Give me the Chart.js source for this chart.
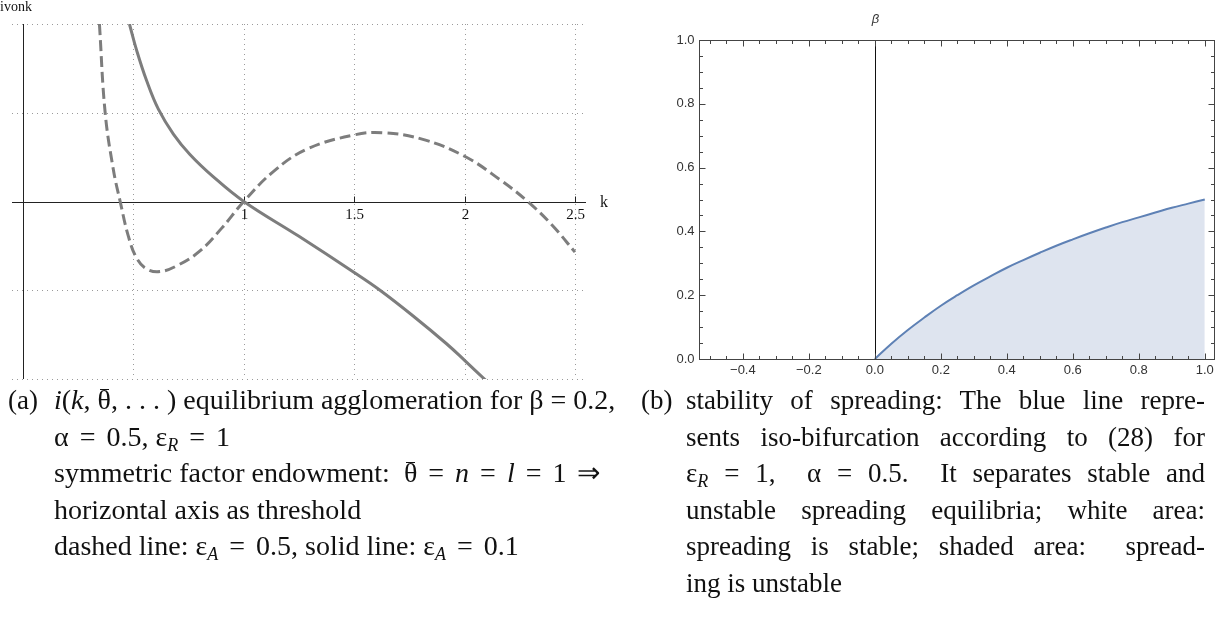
<!DOCTYPE html>
<html>
<head>
<meta charset="utf-8">
<script src="https://cdn.jsdelivr.net/npm/chart.js@4.4.1/dist/chart.umd.min.js"></script>
<style>
  body { margin: 0; width: 1226px; height: 627px; background: #fff; position: relative; overflow: hidden; }
  #leftBox { position: absolute; left: 0; top: 0; width: 620px; height: 390px; }
  #rightBox { position: absolute; left: 640px; top: 0; width: 586px; height: 385px; }
  .cap { position: absolute; font-family: 'Liberation Serif', 'Times New Roman', serif; font-size: 27px; line-height: 36.6px; color: #111; white-space: nowrap; }
  .capA { font-size: 28px; }
  .tag { position: absolute; font-family: 'Liberation Serif', serif; font-size: 27px; line-height: 36.6px; color: #111; }
  .j { text-align: justify; text-align-last: justify; }
  i { font-style: italic; }
  sub { font-size: 18px; vertical-align: -5px; line-height: 0; font-style: italic; }
  .bar { display: inline-block; position: relative; line-height: 36.6px; }
  .bar::before { content: ''; position: absolute; left: 2px; right: 2px; top: 7px; border-top: 1.5px solid #111; }
  .r { margin: 0 4px; }
</style>
</head>
<body>
<div id="leftBox"><canvas id="leftChart"></canvas></div>
<div id="rightBox"><canvas id="rightChart"></canvas></div>

<div class="tag" style="left:8px; top:382px;">(a)</div>
<div class="cap capA" style="left:54px; top:382px;">
  <div><i>i</i>(<i>k</i>, <span class="bar">θ</span>, . . . ) equilibrium agglomeration for β = 0.2,</div>
  <div>α <span class="r">=</span> 0.5, ε<sub>R</sub> <span class="r">=</span> 1</div>
  <div>symmetric factor endowment: &nbsp;<span class="bar">θ</span> <span class="r">=</span> <i>n</i> <span class="r">=</span> <i>l</i> <span class="r">=</span> 1 <span class="r">⇒</span></div>
  <div>horizontal axis as threshold</div>
  <div>dashed line: ε<sub>A</sub> <span class="r">=</span> 0.5, solid line: ε<sub>A</sub> <span class="r">=</span> 0.1</div>
</div>

<div class="tag" style="left:641px; top:382px;">(b)</div>
<div class="cap" style="left:686px; top:382px; width:519px; white-space:normal;">
  <div class="j">stability of spreading: The blue line repre-</div>
  <div class="j">sents iso-bifurcation according to (28) for</div>
  <div class="j">ε<sub>R</sub> = 1, &nbsp;α = 0.5. &nbsp;It separates stable and</div>
  <div class="j">unstable spreading equilibria; white area:</div>
  <div class="j">spreading is stable; shaded area: &nbsp;spread-</div>
  <div>ing is unstable</div>
</div>

<script>
// ---------- left panel: i(k) curves ----------
const kGrid = [0.5, 1, 1.5, 2, 2.5];
const iGrid = [-2, -1, 1, 2];
const kTickValues = [1, 1.5, 2, 2.5];
const kTickLabels = ['1', '1.5', '2', '2.5'];

// dashed line: eps_A = 0.5
const dashedK = [0.346, 0.372, 0.409, 0.44, 0.477, 0.515, 0.56, 0.62, 0.70, 0.80, 0.90, 1.0,
                 1.135, 1.286, 1.5, 1.631, 1.811, 2.0, 2.158, 2.286, 2.398, 2.5];
const dashedI = [2.0, 1.0, 0.36, 0.0, -0.39, -0.64, -0.76, -0.79, -0.72, -0.56, -0.30, 0.0,
                 0.34, 0.59, 0.75, 0.775, 0.70, 0.51, 0.25, 0.0, -0.27, -0.57];

// solid line: eps_A = 0.1
const solidK = [0.482, 0.515, 0.56, 0.613, 0.681, 0.756, 0.861, 1.0, 1.248, 1.5, 1.617, 1.767, 1.917, 2.0, 2.098];
const solidI = [2.0, 1.70, 1.36, 1.04, 0.76, 0.53, 0.28, 0.0, -0.39, -0.80, -1.00, -1.29, -1.60, -1.79, -2.02];

// ---------- right panel: iso-bifurcation ----------
const betaX = [0, 0.05, 0.1, 0.15, 0.2, 0.25, 0.3, 0.35, 0.4, 0.45, 0.5,
               0.55, 0.6, 0.65, 0.7, 0.75, 0.8, 0.85, 0.9, 0.95, 1.0];
const betaY = [0, 0.048, 0.091, 0.13, 0.167, 0.2, 0.231, 0.259, 0.286, 0.31, 0.333,
               0.355, 0.375, 0.394, 0.412, 0.429, 0.444, 0.459, 0.474, 0.487, 0.5];
const xMajor = [-0.4, -0.2, 0, 0.2, 0.4, 0.6, 0.8, 1.0];
const xMajorLabels = ['\u22120.4', '\u22120.2', '0.0', '0.2', '0.4', '0.6', '0.8', '1.0'];
const yMajor = [0, 0.2, 0.4, 0.6, 0.8, 1.0];
const yMajorLabels = ['0.0', '0.2', '0.4', '0.6', '0.8', '1.0'];

const toPoints = (xs, ys) => xs.map((x, i) => ({ x: x, y: ys[i] }));
const crisp = v => Math.round(v) + 0.5;

// axes, grid and labels for the left panel
const leftAxes = {
    id: 'leftAxes',
    beforeDatasetsDraw(chart) {
        const { ctx, chartArea: a, scales: { x, y } } = chart;
        ctx.save();
        // dotted grid
        ctx.strokeStyle = '#9a9a9a';
        ctx.lineWidth = 1;
        ctx.setLineDash([1, 4]);
        kGrid.forEach(v => {
            const px = crisp(x.getPixelForValue(v));
            ctx.beginPath(); ctx.moveTo(px, a.top); ctx.lineTo(px, a.bottom); ctx.stroke();
        });
        iGrid.forEach(v => {
            const py = crisp(y.getPixelForValue(v));
            ctx.beginPath(); ctx.moveTo(a.left, py); ctx.lineTo(a.right, py); ctx.stroke();
        });
        ctx.setLineDash([]);
        // axes through the origin
        const y0 = crisp(y.getPixelForValue(0));
        const x0 = crisp(x.getPixelForValue(0));
        ctx.strokeStyle = '#222';
        ctx.beginPath(); ctx.moveTo(a.left, y0); ctx.lineTo(a.right, y0); ctx.stroke();
        ctx.beginPath(); ctx.moveTo(x0, a.top); ctx.lineTo(x0, a.bottom); ctx.stroke();
        // ticks + labels
        ctx.fillStyle = '#111';
        ctx.font = '15px "Liberation Serif", serif';
        ctx.textAlign = 'center';
        ctx.textBaseline = 'top';
        kTickValues.forEach((v, i) => {
            const px = crisp(x.getPixelForValue(v));
            ctx.beginPath(); ctx.moveTo(px, y0); ctx.lineTo(px, y0 - 6); ctx.stroke();
            ctx.fillText(kTickLabels[i], px, y0 + 5);
        });
        ctx.font = '16px "Liberation Serif", serif';
        ctx.textAlign = 'left';
        ctx.textBaseline = 'middle';
        ctx.fillText('k', a.right + 14, y0);
        ctx.font = '14px "Liberation Serif", serif';
        ctx.textBaseline = 'top';
        ctx.fillText('ivonk', 0, 0);
        ctx.restore();
    }
};

new Chart(document.getElementById('leftChart'), {
    type: 'line',
    data: {
        datasets: [{
            label: 'dashed',
            data: toPoints(dashedK, dashedI),
            borderColor: '#7d7d7d',
            borderWidth: 3,
            borderDash: [11, 5],
            pointRadius: 0,
            tension: 0.4
        }, {
            label: 'solid',
            data: toPoints(solidK, solidI),
            borderColor: '#7d7d7d',
            borderWidth: 3,
            pointRadius: 0,
            tension: 0.4
        }]
    },
    options: {
        responsive: true,
        maintainAspectRatio: false,
        animation: false,
        layout: { padding: { left: 12, right: 34, top: 24, bottom: 11 } },
        plugins: { legend: { display: false }, tooltip: { enabled: false } },
        scales: {
            x: { type: 'linear', min: -0.05, max: 2.55, display: false },
            y: { type: 'linear', min: -2, max: 2, display: false }
        }
    },
    plugins: [leftAxes]
});

// frame, ticks and labels for the right panel
const rightFrame = {
    id: 'rightFrame',
    afterDatasetsDraw(chart) {
        const { ctx, chartArea: a, scales: { x, y } } = chart;
        const L = crisp(a.left), R = crisp(a.right), T = crisp(a.top), B = crisp(a.bottom);
        ctx.save();
        // vertical axis at 0
        const x0 = crisp(x.getPixelForValue(0));
        ctx.strokeStyle = '#111';
        ctx.lineWidth = 1;
        ctx.beginPath(); ctx.moveTo(x0, T); ctx.lineTo(x0, B); ctx.stroke();
        // frame
        ctx.strokeStyle = '#444';
        ctx.strokeRect(L, T, R - L, B - T);
        // major + minor ticks every 0.05
        for (let i = -10; i <= 20; i++) {
            const len = i % 4 === 0 ? 6 : 3.5;
            const px = crisp(x.getPixelForValue(i * 0.05));
            ctx.beginPath();
            ctx.moveTo(px, B); ctx.lineTo(px, B - len);
            ctx.moveTo(px, T); ctx.lineTo(px, T + len);
            ctx.stroke();
        }
        for (let i = 0; i <= 20; i++) {
            const len = i % 4 === 0 ? 6 : 3.5;
            const py = crisp(y.getPixelForValue(i * 0.05));
            ctx.beginPath();
            ctx.moveTo(L, py); ctx.lineTo(L + len, py);
            ctx.moveTo(R, py); ctx.lineTo(R - len, py);
            ctx.stroke();
        }
        // labels
        ctx.fillStyle = '#333';
        ctx.font = '13px "Liberation Sans", Arial, sans-serif';
        ctx.textAlign = 'center';
        ctx.textBaseline = 'top';
        xMajor.forEach((v, i) => ctx.fillText(xMajorLabels[i], x.getPixelForValue(v), B + 4));
        ctx.textAlign = 'right';
        ctx.textBaseline = 'middle';
        yMajor.forEach((v, i) => ctx.fillText(yMajorLabels[i], L - 5, y.getPixelForValue(v)));
        ctx.font = 'italic 13px "Liberation Sans", Arial, sans-serif';
        ctx.textAlign = 'center';
        ctx.fillText('\u03B2', x0, T - 21);
        ctx.restore();
    }
};

new Chart(document.getElementById('rightChart'), {
    type: 'line',
    data: {
        datasets: [{
            label: 'iso-bifurcation',
            data: toPoints(betaX, betaY),
            borderColor: '#5e81b5',
            borderWidth: 2,
            backgroundColor: 'rgb(222, 228, 239)',
            fill: 'origin',
            pointRadius: 0,
            tension: 0.4
        }]
    },
    options: {
        responsive: true,
        maintainAspectRatio: false,
        animation: false,
        layout: { padding: { left: 59, right: 12, top: 40, bottom: 26 } },
        plugins: { legend: { display: false }, tooltip: { enabled: false } },
        scales: {
            x: { type: 'linear', min: -0.533, max: 1.028, display: false },
            y: { type: 'linear', min: 0, max: 1, display: false }
        }
    },
    plugins: [rightFrame]
});
</script>
</body>
</html>
